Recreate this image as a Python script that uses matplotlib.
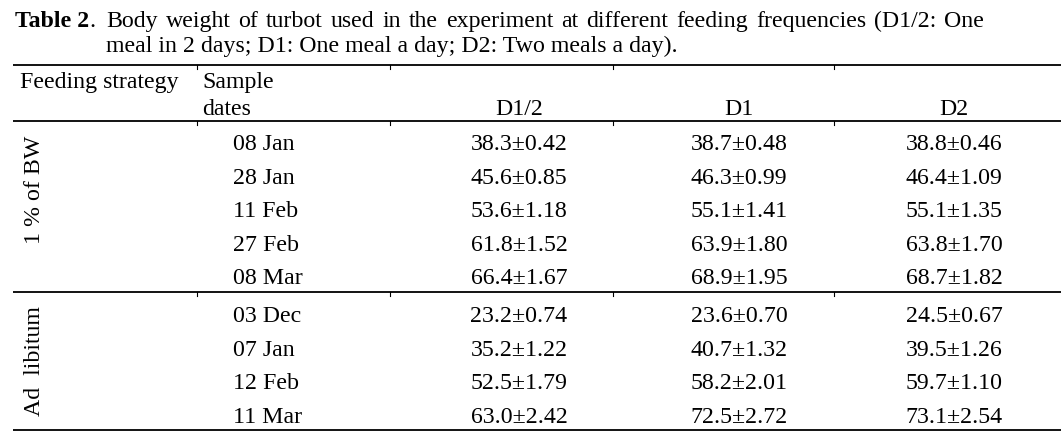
import matplotlib
matplotlib.use("Agg")
import matplotlib.pyplot as plt

# ---- data ----
title_bold = "Table 2"
title_line1 = "Body weight of turbot used in the experiment at different feeding frequencies (D1/2:  One"
title_line2 = "meal in 2 days; D1: One meal a day; D2: Two meals a day)."
header_strategy = "Feeding strategy"
header_dates = ["Sample", "dates"]
columns = ["D1/2", "D1", "D2"]
strategies = ["1 % of BW", "Ad  libitum"]
dates_bw = ["08 Jan", "28 Jan", "11 Feb", "27 Feb", "08 Mar"]
dates_adlib = ["03 Dec", "07 Jan", "12 Feb", "11 Mar"]
bw_d12 = ["38.3±0.42", "45.6±0.85", "53.6±1.18", "61.8±1.52", "66.4±1.67"]
bw_d1 = ["38.7±0.48", "46.3±0.99", "55.1±1.41", "63.9±1.80", "68.9±1.95"]
bw_d2 = ["38.8±0.46", "46.4±1.09", "55.1±1.35", "63.8±1.70", "68.7±1.82"]
ad_d12 = ["23.2±0.74", "35.2±1.22", "52.5±1.79", "63.0±2.42"]
ad_d1 = ["23.6±0.70", "40.7±1.32", "58.2±2.01", "72.5±2.72"]
ad_d2 = ["24.5±0.67", "39.5±1.26", "59.7±1.10", "73.1±2.54"]

# ---- layout ----
W, H = 1061, 437
FS = 17.2
FONT = "Liberation Serif"
plt.rcParams["font.family"] = [FONT, "DejaVu Serif"]

fig = plt.figure(figsize=(W / 100, H / 100), dpi=100)
ax = fig.add_axes([0, 0, 1, 1])
ax.set_xlim(0, W)
ax.set_ylim(H, 0)
ax.axis("off")
fig.patch.set_facecolor("white")

fig.canvas.draw()
renderer = fig.canvas.get_renderer()


def text_width(t):
    bb = t.get_window_extent(renderer=renderer)
    return bb.width


# title line 1: bold label + justified words
tb = ax.text(15, 27, title_bold, fontsize=FS, fontweight="bold", va="baseline", ha="left")
wb = text_width(tb)
ax.text(15 + wb, 27, ".", fontsize=FS, va="baseline", ha="left")

words = title_line1.split()
left, right = 106, 984
objs = [ax.text(0, 27, w, fontsize=FS, va="baseline", ha="left") for w in words]
widths = [text_width(o) for o in objs]
gap = (right - left - sum(widths)) / (len(words) - 1)
x = left
for o, w in zip(objs, widths):
    o.set_x(x)
    x += w + gap

ax.text(106, 52, title_line2, fontsize=FS, va="baseline", ha="left")

# rules
rule_y = [65, 121, 292, 430]
for y in rule_y:
    ax.plot([13, W], [y, y], color="black", lw=1.3, solid_capstyle="butt")
stub_x = [197, 390, 613, 834]
for y in rule_y[:3]:
    for sx in stub_x:
        ax.plot([sx, sx], [y, y + 4], color="black", lw=0.8)

# header
ax.text(20, 88, header_strategy, fontsize=FS, va="baseline", ha="left")
ax.text(202, 88, header_dates[0], fontsize=FS, va="baseline", ha="left")
ax.text(202, 115, header_dates[1], fontsize=FS, va="baseline", ha="left")
col_cx = [519, 739, 954]
for cx, c in zip(col_cx, columns):
    ax.text(cx, 115, c, fontsize=FS, va="baseline", ha="center")

# body
groups = [
    (dates_bw, [bw_d12, bw_d1, bw_d2], 150, 190),
    (dates_adlib, [ad_d12, ad_d1, ad_d2], 322, 361),
]
row_h = 33.6
date_x = 233
for (dates, cols, y0, ymid), label in zip(groups, strategies):
    ax.text(35, ymid, label, fontsize=FS, rotation=90, va="center", ha="center")
    for i, d in enumerate(dates):
        y = y0 + i * row_h
        ax.text(date_x, y, d, fontsize=FS, va="baseline", ha="left")
        for cx, vals in zip(col_cx, cols):
            ax.text(cx, y, vals[i], fontsize=FS, va="baseline", ha="center")

fig.savefig("out.png", dpi=100, facecolor="white")
